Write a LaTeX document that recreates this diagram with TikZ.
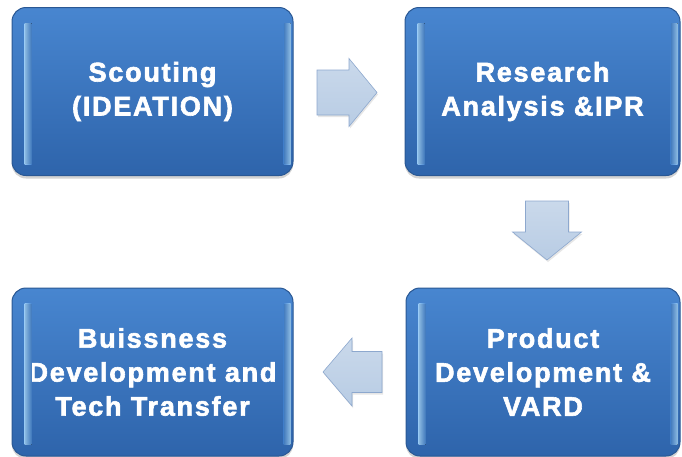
\documentclass[tikz,border=0pt]{standalone}
\usepackage{fontspec}
\setmainfont{Liberation Sans}
\usetikzlibrary{shadows}
\usepackage{xcolor}

\definecolor{boxtop}{HTML}{4886D0}
\definecolor{boxbot}{HTML}{2E64AB}
\definecolor{boxedge}{HTML}{2A5894}
\definecolor{bevel}{HTML}{9ED0FA}
\definecolor{arrowfill}{HTML}{B8CCE4}
\definecolor{arrowedge}{HTML}{8DA8CE}

\tikzset{
  stage/.style={rounded corners=14pt, minimum width=281pt, minimum height=168pt,
    draw=boxedge, line width=1pt, top color=boxtop, bottom color=boxbot,
    align=center, text=white, inner sep=0pt,
    font=\fontsize{27}{34}\selectfont\bfseries\addfontfeatures{LetterSpace=6.5,FakeBold=2.2},
    drop shadow={shadow xshift=0pt, shadow yshift=-3pt, opacity=.35}},
  flow/.style={draw=arrowedge, line width=.6pt, top color=arrowfill!75!white,
    bottom color=arrowfill,
    drop shadow={shadow xshift=1pt, shadow yshift=-2pt, opacity=.2}},
  bevelstrip/.style={left color=bevel, right color=boxtop, opacity=.9}
}

\begin{document}
\begin{tikzpicture}[x=1pt,y=-1pt]
  \useasboundingbox (0,0) rectangle (682,456);
  % the four stages
  \node[stage] (scout) at (152.5,91.5) {Scouting\\(IDEATION)};
  \node[stage, minimum width=275pt] (research) at (542.5,91.5) {Research\\Analysis \&IPR};
  \node[stage, minimum width=274pt] (product) at (543,372) {Product\\Development \&\\VARD};
  \node[stage] (business) at (152.5,372) {Buissness\\Development and\\Tech Transfer};
  % bevel highlights
  \foreach \s in {scout,research,product,business}{
    \fill[bevelstrip] ([xshift=13pt,yshift=-16pt]\s.north west) rectangle ([xshift=20pt,yshift=12pt]\s.south west);
    \fill[bevelstrip, left color=boxtop, right color=bevel] ([xshift=-10pt,yshift=-16pt]\s.north east) rectangle ([xshift=-3pt,yshift=12pt]\s.south east);
  }
  % block arrows between stages
  \draw[flow] (317,70) -- (349,70) -- (349,58.5) -- (377,92.5) -- (349,126.5) -- (349,115) -- (317,115) -- cycle;
  \draw[flow] (525.5,201) -- (568.5,201) -- (568.5,232) -- (581.5,232) -- (547,260) -- (512.5,232) -- (525.5,232) -- cycle;
  \draw[flow] (382,351.5) -- (352,351.5) -- (352,338) -- (323,372) -- (352,406) -- (352,392.5) -- (382,392.5) -- cycle;
\end{tikzpicture}
\end{document}
